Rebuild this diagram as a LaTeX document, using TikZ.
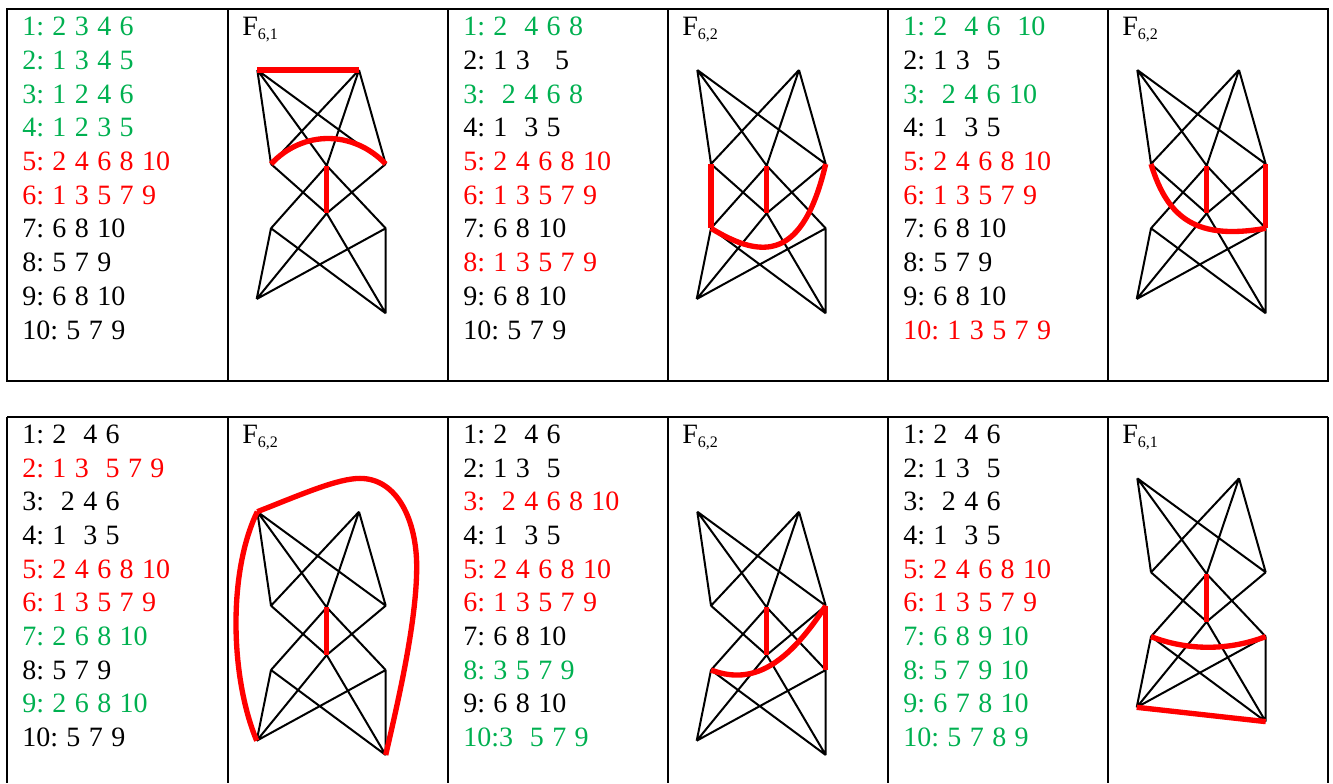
\documentclass[tikz,border=0pt]{standalone}
\usepackage{fontspec}
\setmainfont{Liberation Serif}
\definecolor{grn}{RGB}{0,176,80}
\definecolor{rd}{RGB}{255,0,0}
\newcommand\lstfont{\rmfamily\fontsize{21}{25}\selectfont\frenchspacing\spaceskip=0.3em\relax}
\newcommand\subfnt{\fontsize{12}{12}\selectfont}
\newcommand\Flab[1]{F\raisebox{-3.5pt}{\subfnt #1}}
\tikzset{
  tbl/.style={line width=1.7pt},
  edge/.style={line width=1.5pt, black},
  redge/.style={line width=4pt, rd},
  lst/.style={anchor=base west, inner sep=0pt, font=\lstfont},
  flbl/.style={anchor=base west, inner sep=0pt, font=\lstfont},
}
\newcommand\basegraph[1]{%
  \coordinate (#1A) at (29.3,0);
  \coordinate (#1B) at (131,0);
  \coordinate (#1C) at (43,94);
  \coordinate (#1D) at (157.7,94);
  \coordinate (#1E) at (98.7,95.7);
  \coordinate (#1F) at (98.7,143.3);
  \coordinate (#1G) at (43,158.3);
  \coordinate (#1H) at (157.7,158.3);
  \coordinate (#1I) at (28.7,229);
  \coordinate (#1J) at (157.7,243.3);
  \draw[edge] (#1A)--(#1C) (#1A)--(#1D) (#1A)--(#1E)
              (#1B)--(#1C) (#1B)--(#1D) (#1B)--(#1E)
              (#1C)--(#1F) (#1D)--(#1F)
              (#1E)--(#1G) (#1E)--(#1H)
              (#1F)--(#1I) (#1F)--(#1J)
              (#1G)--(#1I) (#1G)--(#1J)
              (#1H)--(#1I) (#1H)--(#1J);
}
\begin{document}
\begin{tikzpicture}[x=0.75pt,y=-0.75pt]
\useasboundingbox (0,0) rectangle (1333,783);
% ---------- tables ----------
\draw[tbl] (7,9) rectangle (1328,381);
\foreach \xx in {228,448,668,888,1108}{\draw[tbl] (\xx,9) -- (\xx,381);}
\draw[tbl] (7,417) -- (1328,417);
\foreach \xx in {7,228,448,668,888,1108,1328}{\draw[tbl] (\xx,417) -- (\xx,783);}

% ---------- top row, cell 1 ----------
\begin{scope}[shift={(22,35.7)}]
\node[lst,text=grn] (a1) at (0,0) {1: 2 3 4 6};
\node[lst,text=grn] (a2) at (0,33.7) {2: 1 3 4 5};
\node[lst,text=grn] (a3) at (0,67.4) {3: 1 2 4 6};
\node[lst,text=grn] (a4) at (0,101.1) {4: 1 2 3 5};
\node[lst,text=rd] (a5) at (0,134.8) {5: 2 4 6 8 10};
\node[lst,text=rd] (a6) at (0,168.5) {6: 1 3 5 7 9};
\node[lst] (a7) at (0,202.2) {7: 6 8 10};
\node[lst] (a8) at (0,235.9) {8: 5 7 9};
\node[lst] (a9) at (0,269.6) {9: 6 8 10};
\node[lst] (a10) at (0,303.3) {10: 5 7 9};
\end{scope}
\node[flbl] (fa) at (242,35) {\Flab{6,1}};
\begin{scope}[shift={(228,70)}]
\basegraph{a}
\draw[redge] (aA) -- (aB);
\draw[redge] (aC) .. controls (75,60) and (125,60) .. (aD);
\draw[redge] (aE) -- (aF);
\end{scope}

% ---------- top row, cell 2 ----------
\begin{scope}[shift={(463,35.7)}]
\node[lst,text=grn] (b1) at (0,0) {1: 2\ \ 4 6 8};
\node[lst] (b2) at (0,33.7) {2: 1 3\ \ \ 5};
\node[lst,text=grn] (b3) at (0,67.4) {3:\ \ 2 4 6 8};
\node[lst] (b4) at (0,101.1) {4: 1\ \ 3 5};
\node[lst,text=rd] (b5) at (0,134.8) {5: 2 4 6 8 10};
\node[lst,text=rd] (b6) at (0,168.5) {6: 1 3 5 7 9};
\node[lst] (b7) at (0,202.2) {7: 6 8 10};
\node[lst,text=rd] (b8) at (0,235.9) {8: 1 3 5 7 9};
\node[lst] (b9) at (0,269.6) {9: 6 8 10};
\node[lst] (b10) at (0,303.3) {10: 5 7 9};
\end{scope}
\node[flbl] (fb) at (682,35) {\Flab{6,2}};
\begin{scope}[shift={(668,70)}]
\basegraph{b}
\draw[redge] (bC) -- (bG);
\draw[redge] (bE) -- (bF);
\draw[redge] (bG) .. controls (95,190) and (135,190) .. (bD);
\end{scope}

% ---------- top row, cell 3 ----------
\begin{scope}[shift={(903,35.7)}]
\node[lst,text=grn] (c1) at (0,0) {1: 2\ \ 4 6\ \ 10};
\node[lst] (c2) at (0,33.7) {2: 1 3\ \ 5};
\node[lst,text=grn] (c3) at (0,67.4) {3:\ \ 2 4 6 10};
\node[lst] (c4) at (0,101.1) {4: 1\ \ 3 5};
\node[lst,text=rd] (c5) at (0,134.8) {5: 2 4 6 8 10};
\node[lst,text=rd] (c6) at (0,168.5) {6: 1 3 5 7 9};
\node[lst] (c7) at (0,202.2) {7: 6 8 10};
\node[lst] (c8) at (0,235.9) {8: 5 7 9};
\node[lst] (c9) at (0,269.6) {9: 6 8 10};
\node[lst,text=rd] (c10) at (0,303.3) {10: 1 3 5 7 9};
\end{scope}
\node[flbl] (fc) at (1122,35) {\Flab{6,2}};
\begin{scope}[shift={(1108,70)}]
\basegraph{c}
\draw[redge] (cC) .. controls (60,150) and (90,170) .. (cH);
\draw[redge] (cD) -- (cH);
\draw[redge] (cE) -- (cF);
\end{scope}

% ---------- bottom row, cell 1 ----------
\begin{scope}[shift={(22,443.3)}]
\node[lst] (d1) at (0,0) {1: 2\ \ 4 6};
\node[lst,text=rd] (d2) at (0,33.7) {2: 1 3\ \ 5 7 9};
\node[lst] (d3) at (0,67.4) {3:\ \ 2 4 6};
\node[lst] (d4) at (0,101.1) {4: 1\ \ 3 5};
\node[lst,text=rd] (d5) at (0,134.8) {5: 2 4 6 8 10};
\node[lst,text=rd] (d6) at (0,168.5) {6: 1 3 5 7 9};
\node[lst,text=grn] (d7) at (0,202.2) {7: 2 6 8 10};
\node[lst] (d8) at (0,235.9) {8: 5 7 9};
\node[lst,text=grn] (d9) at (0,269.6) {9: 2 6 8 10};
\node[lst] (d10) at (0,303.3) {10: 5 7 9};
\end{scope}
\node[flbl] (fd) at (242,443.3) {\Flab{6,2}};
\begin{scope}[shift={(228,511.7)}]
\basegraph{d}
\coordinate (dT) at (132,-33.3);
\coordinate (dR) at (188.7,55);
\draw[redge] (dA) .. controls (0,60) and (2,165) .. (dI);
\draw[redge] (dA) .. controls (75,-18) and (110,-33.3) .. (dT)
                  .. controls (170,-33.3) and (188.7,10) .. (dR)
                  .. controls (188.7,110) and (170,190) .. (dJ);
\draw[redge] (dE) -- (dF);
\end{scope}

% ---------- bottom row, cell 2 ----------
\begin{scope}[shift={(463,443.3)}]
\node[lst] (e1) at (0,0) {1: 2\ \ 4 6};
\node[lst] (e2) at (0,33.7) {2: 1 3\ \ 5};
\node[lst,text=rd] (e3) at (0,67.4) {3:\ \ 2 4 6 8 10};
\node[lst] (e4) at (0,101.1) {4: 1\ \ 3 5};
\node[lst,text=rd] (e5) at (0,134.8) {5: 2 4 6 8 10};
\node[lst,text=rd] (e6) at (0,168.5) {6: 1 3 5 7 9};
\node[lst] (e7) at (0,202.2) {7: 6 8 10};
\node[lst,text=grn] (e8) at (0,235.9) {8: 3 5 7 9};
\node[lst] (e9) at (0,269.6) {9: 6 8 10};
\node[lst,text=grn] (e10) at (0,303.3) {10:3\ \ 5 7 9};
\end{scope}
\node[flbl] (fe) at (682,443.3) {\Flab{6,2}};
\begin{scope}[shift={(668,511.7)}]
\basegraph{e}
\draw[redge] (eE) -- (eF);
\draw[redge] (eD) -- (eH);
\draw[redge] (eG) .. controls (80,172) and (115,160) .. (eD);
\end{scope}

% ---------- bottom row, cell 3 ----------
\begin{scope}[shift={(903,443.3)}]
\node[lst] (f1) at (0,0) {1: 2\ \ 4 6};
\node[lst] (f2) at (0,33.7) {2: 1 3\ \ 5};
\node[lst] (f3) at (0,67.4) {3:\ \ 2 4 6};
\node[lst] (f4) at (0,101.1) {4: 1\ \ 3 5};
\node[lst,text=rd] (f5) at (0,134.8) {5: 2 4 6 8 10};
\node[lst,text=rd] (f6) at (0,168.5) {6: 1 3 5 7 9};
\node[lst,text=grn] (f7) at (0,202.2) {7: 6 8 9 10};
\node[lst,text=grn] (f8) at (0,235.9) {8: 5 7 9 10};
\node[lst,text=grn] (f9) at (0,269.6) {9: 6 7 8 10};
\node[lst,text=grn] (f10) at (0,303.3) {10: 5 7 8 9};
\end{scope}
\node[flbl] (ff) at (1122,443.3) {\Flab{6,1}};
\begin{scope}[shift={(1108,478.3)}]
\basegraph{f}
\draw[redge] (fE) -- (fF);
\draw[redge] (fG) .. controls (80,172.5) and (120,172.5) .. (fH);
\draw[redge] (fI) -- (fJ);
\end{scope}
\end{tikzpicture}
\end{document}
